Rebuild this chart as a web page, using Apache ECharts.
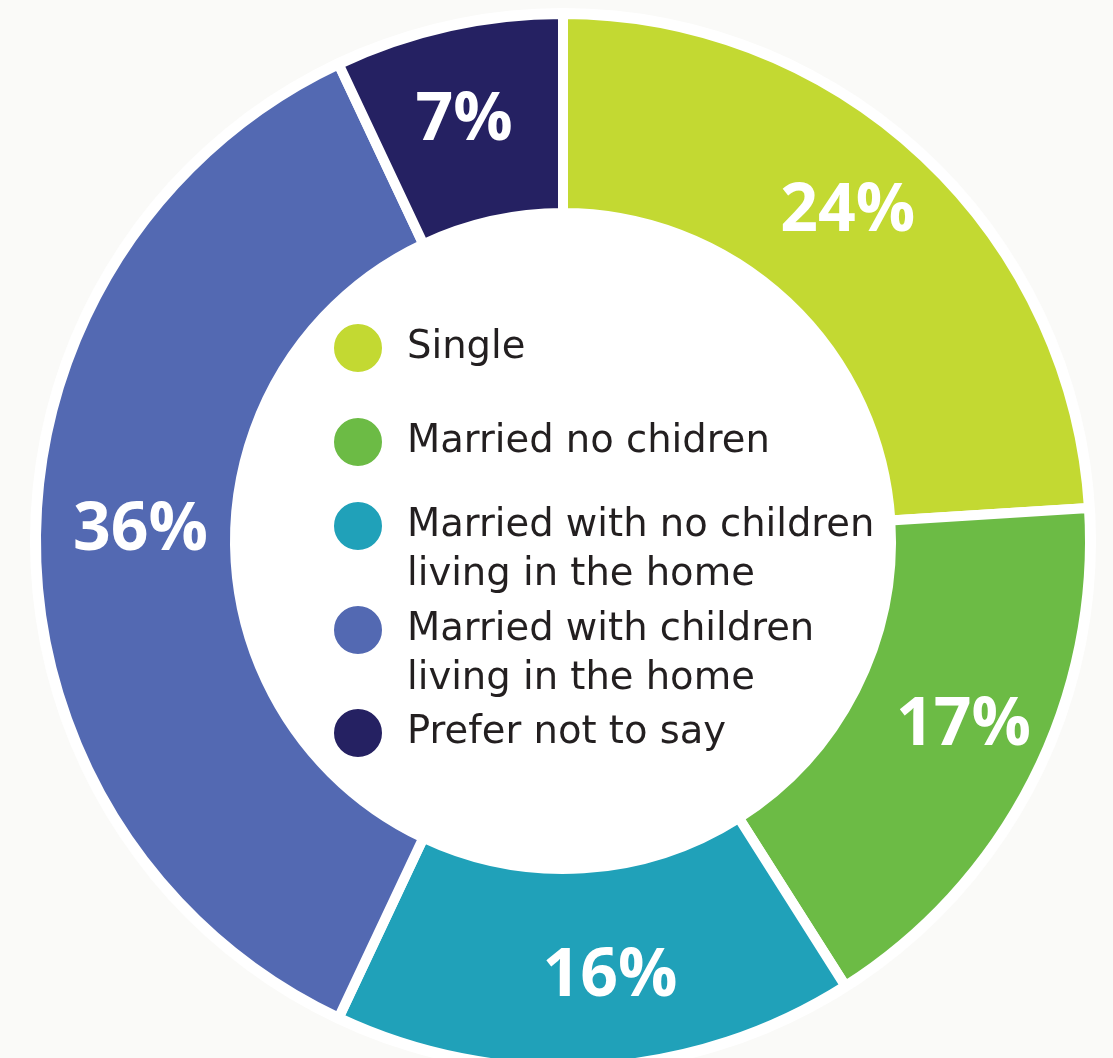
<!DOCTYPE html>
<html>
	<head>
		<meta charset="UTF-8">
		<script type="text/javascript" src="https://cdn.jsdelivr.net/npm/echarts@6/dist/echarts.min.js"></script>
		<title></title>
		<style>
			html, body { margin: 0; padding: 0; background: #fafaf8; }
		</style>
	</head>
	<body>
		<div id="graph" style="width: 1113px; height: 1058px;"></div>
	</body>
	<script>
		var categories = [
			'Single',
			'Married no chidren',
			'Married with no children\nliving in the home',
			'Married with children\nliving in the home',
			'Prefer not to say'
		];
		var percents = [24, 17, 16, 36, 7];
		var colors = ['#c3d932', '#6cbb45', '#20a1b9', '#5369b2', '#252162'];

		// icon centre of each legend row, and small nudges for the % labels
		var legendRows = [347, 441, 526, 630, 732];
		var labelNudge = [[-10, -15], [17, -10], [20, 7], [8, -10], [-5, 0]];

		var myChart = echarts.init(document.getElementById('graph'));

		var pieData = [];
		for (var i = 0; i < categories.length; i++) {
			pieData.push({
				name: categories[i],
				value: percents[i],
				itemStyle: { color: colors[i] },
				label: { offset: labelNudge[i] }
			});
		}

		var lineH = 49;
		var legends = [];
		for (var j = 0; j < categories.length; j++) {
			var twoLines = categories[j].indexOf('\n') >= 0;
			legends.push({
				data: [categories[j]],
				orient: 'vertical',
				left: 332,
				top: legendRows[j] - (twoLines ? lineH * 1.5 : 25),
				padding: 0,
				itemWidth: 50,
				itemHeight: 50,
				icon: 'circle',
				selectedMode: false,
				// blank first line keeps the icon level with the first text line
				formatter: function (name) {
					return name.indexOf('\n') >= 0 ? '\n' + name : name;
				},
				textStyle: {
					fontFamily: 'DejaVu Sans',
					fontSize: 38.5,
					color: '#231f20',
					lineHeight: lineH,
					padding: [0, 0, 0, 19]
				}
			});
		}

		var option = {
			animation: false,
			backgroundColor: '#fafaf8',
			legend: legends,
			series: [
				{
					name: 'backing',
					type: 'pie',
					silent: true,
					center: [563, 541],
					radius: [0, 533],
					z: 1,
					label: { show: false },
					labelLine: { show: false },
					itemStyle: { color: '#ffffff' },
					data: [{ name: '', value: 1 }]
				},
				{
					name: 'statistics',
					type: 'pie',
					center: [563, 541],
					radius: [328, 527],
					startAngle: 90,
					clockwise: true,
					z: 2,
					itemStyle: {
						borderColor: '#ffffff',
						borderWidth: 10
					},
					label: {
						show: true,
						position: 'inside',
						formatter: '{c}%',
						color: '#ffffff',
						fontFamily: 'Open Sans',
						fontWeight: 'bold',
						fontSize: 66
					},
					emphasis: { disabled: true },
					data: pieData
				}
			]
		};
		myChart.setOption(option);
	</script>
</html>
